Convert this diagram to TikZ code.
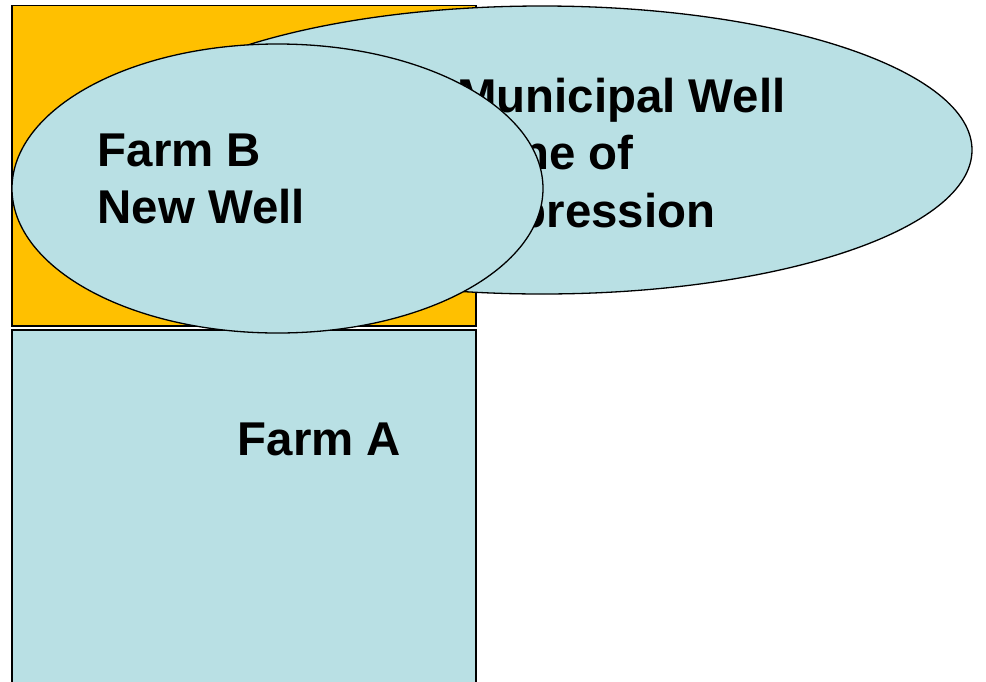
\documentclass[tikz,border=0pt]{standalone}
\usepackage{fontspec}
\setmainfont{Liberation Sans}
\definecolor{farmorange}{RGB}{255,192,0}
\definecolor{farmblue}{RGB}{185,224,228}
\begin{document}
\begin{tikzpicture}[x=1pt,y=-1pt,
  plot/.style={draw=black,line width=1.6pt,fill=#1},
  zone/.style={draw=black,line width=1.3pt,fill=farmblue},
  lab/.style={font=\bfseries\fontsize{47.4}{57.6}\selectfont,align=left,inner sep=0pt,anchor=north west}]
\clip (0,0) rectangle (986,681);
\fill[white] (0,0) rectangle (986,681);
% Farm B plot (orange) and Farm A plot (blue)
\path[plot=farmorange] (12,5.5) rectangle (476,326);
\path[plot=farmblue] (12,330) rectangle (476,700);
\node[lab] (farmA) at (237.5,422.5) {Farm A};
% Municipal well cone of depression
\path[zone] (542,150) ellipse [x radius=430,y radius=144];
\node[lab] (muni) at (457,77.5) {Municipal Well\\Cone of\\Depression};
% Farm B new well
\path[zone] (277.5,188.5) ellipse [x radius=265.5,y radius=144.5];
\node[lab] (farmB) at (97.5,133.5) {Farm B\\New Well};
\end{tikzpicture}
\end{document}
